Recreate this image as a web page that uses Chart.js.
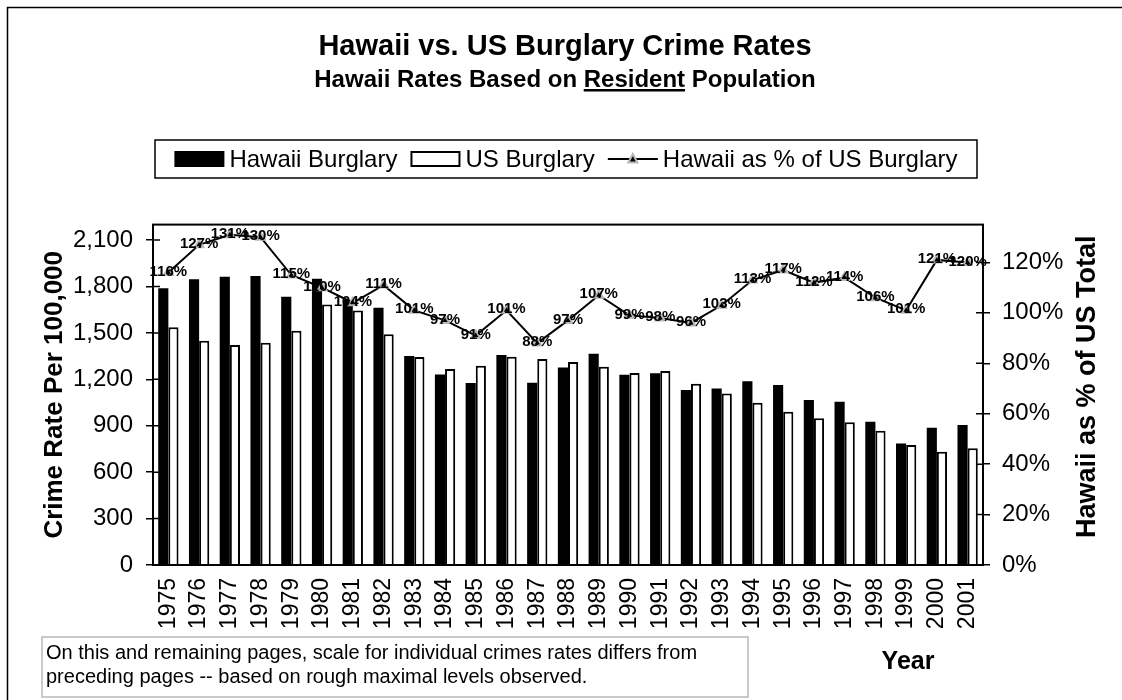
<!DOCTYPE html>
<html>
<head>
<meta charset="utf-8">
<title>Hawaii vs. US Burglary Crime Rates</title>
<script src="https://cdn.jsdelivr.net/npm/chart.js@4.4.0/dist/chart.umd.min.js"></script>
<style>
  html, body { margin: 0; padding: 0; background: #fff; }
  #wrap { width: 1122px; height: 700px; }
</style>
</head>
<body>
<div id="wrap"><canvas id="burglary"></canvas></div>
<script>
// burglary rates per 100,000 people
const years = ['1975', '1976', '1977', '1978', '1979', '1980', '1981', '1982', '1983',
  '1984', '1985', '1986', '1987', '1988', '1989', '1990', '1991', '1992', '1993',
  '1994', '1995', '1996', '1997', '1998', '1999', '2000', '2001'];
const hawaiiRate = [1788, 1846, 1863, 1867, 1734, 1850, 1712, 1662, 1350,
  1232, 1176, 1357, 1178, 1277, 1365, 1230, 1239, 1131, 1140,
  1187, 1163, 1066, 1055, 926, 786, 887, 905];
const usRate = [1536, 1449, 1422, 1437, 1514, 1684, 1645, 1491, 1344,
  1267, 1288, 1346, 1331, 1312, 1281, 1241, 1254, 1172, 1109,
  1049, 991, 948, 922, 868, 775, 732, 754];
// Hawaii as % of the US rate
const hawaiiPct = [116, 127, 131, 130, 115, 110, 104, 111, 101,
  97, 91, 101, 88, 97, 107, 99, 98, 96, 103,
  113, 117, 112, 114, 106, 101, 121, 120];
const rateTicks = [0, 300, 600, 900, 1200, 1500, 1800, 2100];
const pctTicks = [0, 20, 40, 60, 80, 100, 120];

const FONT = "'Liberation Sans', Arial, sans-serif";
Chart.defaults.font.family = FONT;
Chart.defaults.color = '#000';

const noteLines = [
  'On this and remaining pages, scale for individual crimes rates differs from',
  'preceding pages -- based on rough maximal levels observed.'
];

function drawTriangle(ctx, x, y, r) {
  ctx.beginPath();
  ctx.moveTo(x, y - r);
  ctx.lineTo(x + r * 0.9, y + r * 0.7);
  ctx.lineTo(x - r * 0.9, y + r * 0.7);
  ctx.closePath();
  ctx.fillStyle = '#000';
  ctx.fill();
  ctx.strokeStyle = '#b8b8b8';
  ctx.lineWidth = 2;
  ctx.stroke();
}

const extras = {
  id: 'extras',
  afterDraw(chart) {
    const ctx = chart.ctx;
    const a = chart.chartArea;
    ctx.save();

    // outer frame
    ctx.strokeStyle = '#000';
    ctx.lineWidth = 1.5;
    ctx.strokeRect(7.5, 7.5, chart.width, chart.height);

    // plot area frame
    ctx.lineWidth = 2;
    ctx.strokeRect(a.left, a.top, a.right - a.left, a.bottom - a.top);

    // tick marks cross the axis lines
    ctx.lineWidth = 1.5;
    const yl = chart.scales.yRate, yr = chart.scales.yPct;
    ctx.beginPath();
    yl.ticks.forEach(t => {
      const y = yl.getPixelForValue(t.value);
      ctx.moveTo(a.left, y); ctx.lineTo(a.left + 7, y);
    });
    yr.ticks.forEach(t => {
      const y = yr.getPixelForValue(t.value);
      ctx.moveTo(a.right - 7, y); ctx.lineTo(a.right, y);
    });
    ctx.stroke();

    // underline under "Resident"
    ctx.font = 'bold 24px ' + FONT;
    const sub = chart.options.plugins.subtitle.text;
    const cx = (8 + chart.width) / 2;
    const x0 = cx - ctx.measureText(sub).width / 2 + ctx.measureText('Hawaii Rates Based on ').width;
    const w = ctx.measureText('Resident').width;
    ctx.fillRect(x0, 89, w, 2.5);

    // legend
    const lg = { left: 155, top: 140, width: 822, height: 38 };
    ctx.lineWidth = 1.5;
    ctx.strokeRect(lg.left, lg.top, lg.width, lg.height);
    ctx.font = '24px ' + FONT;
    const sw = 50, gap = 5, itemGap = 13;
    const labels = chart.data.datasets.map(d => d.label);
    const order = [1, 2, 0];
    let total = 0;
    order.forEach((di, k) => {
      total += sw + gap + ctx.measureText(labels[di]).width + (k < 2 ? itemGap : 0);
    });
    let x = lg.left + (lg.width - total) / 2;
    const cy = lg.top + lg.height / 2;
    ctx.textBaseline = 'middle';
    ctx.textAlign = 'left';
    order.forEach(di => {
      if (di === 1) {
        ctx.fillStyle = '#000';
        ctx.fillRect(x, cy - 8, sw, 16);
      } else if (di === 2) {
        ctx.lineWidth = 2;
        ctx.strokeRect(x + 1, cy - 7, sw - 2, 14);
      } else {
        ctx.lineWidth = 2;
        ctx.beginPath();
        ctx.moveTo(x, cy); ctx.lineTo(x + sw, cy);
        ctx.stroke();
        drawTriangle(ctx, x + sw / 2, cy, 5);
      }
      x += sw + gap;
      ctx.fillStyle = '#000';
      ctx.fillText(labels[di], x, cy + 1);
      x += ctx.measureText(labels[di]).width + itemGap;
    });

    // right axis title, reading upwards
    ctx.save();
    ctx.font = 'bold 27px ' + FONT;
    ctx.translate(1088, (a.top + a.bottom) / 2 - 8);
    ctx.rotate(-Math.PI / 2);
    ctx.textAlign = 'center';
    ctx.fillText('Hawaii as % of US Total', 0, 0);
    ctx.restore();

    // x axis title
    ctx.font = 'bold 25px ' + FONT;
    ctx.textAlign = 'center';
    ctx.fillText('Year', 908, 662);

    // note box
    ctx.lineWidth = 1.5;
    ctx.strokeRect(42, 637, 706, 60);
    ctx.font = '20px ' + FONT;
    ctx.textAlign = 'left';
    ctx.fillText(noteLines[0], 46, 653);
    ctx.fillText(noteLines[1], 46, 677);

    // percent labels on the line points
    const meta = chart.getDatasetMeta(0);
    ctx.font = 'bold 15px ' + FONT;
    ctx.textAlign = 'center';
    meta.data.forEach((pt, i) => {
      ctx.fillText(hawaiiPct[i] + '%', pt.x, pt.y - 1);
    });

    ctx.restore();
  }
};

new Chart(document.getElementById('burglary'), {
  data: {
    labels: years,
    datasets: [
      {
        type: 'line',
        label: 'Hawaii as % of US Burglary',
        data: hawaiiPct,
        yAxisID: 'yPct',
        order: 0,
        borderColor: '#000',
        borderWidth: 2,
        tension: 0,
        pointStyle: 'triangle',
        pointRadius: 5,
        pointBackgroundColor: '#000',
        pointBorderColor: '#b8b8b8',
        pointBorderWidth: 2
      },
      {
        type: 'bar',
        label: 'Hawaii Burglary',
        data: hawaiiRate,
        yAxisID: 'yRate',
        order: 1,
        backgroundColor: '#000',
        borderWidth: 0,
        categoryPercentage: 0.66,
        barPercentage: 1.0
      },
      {
        type: 'bar',
        label: 'US Burglary',
        data: usRate,
        yAxisID: 'yRate',
        order: 1,
        backgroundColor: '#fff',
        borderColor: '#000',
        borderWidth: 2,
        categoryPercentage: 0.66,
        barPercentage: 1.0
      }
    ]
  },
  options: {
    responsive: true,
    maintainAspectRatio: false,
    animation: false,
    layout: { padding: { left: 8, right: 0, top: 0, bottom: 0 } },
    plugins: {
      legend: { display: false },
      tooltip: { enabled: false },
      title: {
        display: true,
        text: 'Hawaii vs. US Burglary Crime Rates',
        font: { size: 29, weight: 'bold' },
        padding: { top: 30, bottom: 0 }
      },
      subtitle: {
        display: true,
        text: 'Hawaii Rates Based on Resident Population',
        color: '#000',
        font: { size: 24, weight: 'bold' },
        padding: { top: 1, bottom: 130 }
      }
    },
    scales: {
      x: {
        grid: { display: false, drawTicks: false },
        border: { display: false },
        ticks: { minRotation: 90, maxRotation: 90, padding: 13, font: { size: 23 } },
        afterFit: s => { s.height = 135; }
      },
      yRate: {
        position: 'left',
        min: 0,
        max: 2200,
        afterBuildTicks: s => { s.ticks = rateTicks.map(v => ({ value: v })); },
        grid: { drawOnChartArea: false, color: '#000', lineWidth: 1.5, tickLength: 7 },
        border: { display: false },
        ticks: { padding: 13, font: { size: 24 }, callback: v => v.toLocaleString('en-US') },
        title: {
          display: true,
          text: 'Crime Rate Per 100,000',
          font: { size: 26, weight: 'bold' },
          padding: { top: 31, bottom: 0 }
        },
        afterFit: s => { s.width = 145; }
      },
      yPct: {
        position: 'right',
        min: 0,
        max: 135,
        afterBuildTicks: s => { s.ticks = pctTicks.map(v => ({ value: v })); },
        grid: { drawOnChartArea: false, color: '#000', lineWidth: 1.5, tickLength: 7 },
        border: { display: false },
        ticks: { padding: 12, font: { size: 24 }, callback: v => v + '%' },
        afterFit: s => { s.width = 139; }
      }
    }
  },
  plugins: [extras]
});
</script>
</body>
</html>
